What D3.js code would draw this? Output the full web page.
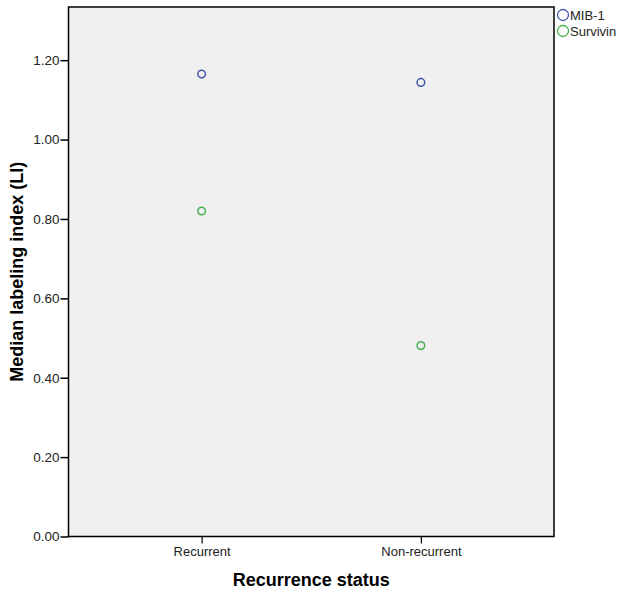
<!DOCTYPE html>
<html>
<head>
<meta charset="utf-8">
<script src="https://cdn.jsdelivr.net/npm/d3@7"></script>
<style>
  body { margin: 0; background: #fff; }
  text { font-family: "Liberation Sans", Arial, sans-serif; }
</style>
</head>
<body>
<div id="chart"></div>
<script>
// values
var categories = ["Recurrent", "Non-recurrent"];
var mib1 = [1.165, 1.144];
var survivin = [0.820, 0.481];
var seriesNames = ["MIB-1", "Survivin"];
var yTicks = [0, 0.2, 0.4, 0.6, 0.8, 1.0, 1.2];

var blue = "#4459a8";
var green = "#42b14a";

var W = 625, H = 594;
// plot box (note: "top" is a reserved window prop, so use other names)
var pLeft = 68.5, pRight = 554, pTop = 7, pBottom = 536.5;

var svg = d3.select("#chart").append("svg")
    .attr("width", W).attr("height", H);

var x = d3.scalePoint()
    .domain(categories)
    .range([pLeft, pRight])
    .padding(0.607);
var y = d3.scaleLinear()
    .domain([0, 1.334])
    .range([pBottom, pTop]);

// plot background
svg.append("rect")
    .attr("x", pLeft).attr("y", pTop)
    .attr("width", pRight - pLeft).attr("height", pBottom - pTop)
    .attr("fill", "#f0f0f0")
    .attr("stroke", "#000").attr("stroke-width", 1.5);

// y axis
var yAxis = svg.append("g")
    .attr("transform", "translate(" + pLeft + ",0)")
    .call(d3.axisLeft(y).tickValues(yTicks).tickFormat(d3.format(".2f")).tickSize(8).tickSizeOuter(0));
yAxis.select(".domain").remove();
yAxis.selectAll("line").attr("stroke", "#000").attr("stroke-width", 1.5);
yAxis.selectAll("text").attr("font-size", 13.5).attr("fill", "#222")
    .attr("font-family", "'Liberation Sans', Arial, sans-serif").attr("x", -9);

// x axis
var xAxis = svg.append("g")
    .attr("transform", "translate(0," + pBottom + ")")
    .call(d3.axisBottom(x).tickSize(7).tickSizeOuter(0));
xAxis.select(".domain").remove();
xAxis.selectAll("line").attr("stroke", "#000").attr("stroke-width", 1.2);
xAxis.selectAll("text").attr("font-size", 13).attr("fill", "#222")
    .attr("font-family", "'Liberation Sans', Arial, sans-serif").attr("y", 10);

// axis titles
svg.append("text")
    .attr("x", (pLeft + pRight) / 2).attr("y", 586)
    .attr("text-anchor", "middle")
    .attr("font-family", "'DejaVu Sans', Verdana, sans-serif")
    .attr("font-weight", "bold").attr("font-size", 18)
    .text("Recurrence status");
svg.append("text")
    .attr("transform", "translate(23," + ((pTop + pBottom) / 2) + ") rotate(-90)")
    .attr("text-anchor", "middle")
    .attr("font-family", "'DejaVu Sans', Verdana, sans-serif")
    .attr("font-weight", "bold").attr("font-size", 18)
    .text("Median labeling index (LI)");

// points
var series = [
  { name: seriesNames[0], values: mib1, color: blue },
  { name: seriesNames[1], values: survivin, color: green }
];
series.forEach(function (s) {
  svg.append("g").selectAll("circle")
      .data(s.values)
      .enter().append("circle")
      .attr("cx", function (d, i) { return x(categories[i]); })
      .attr("cy", function (d) { return y(d); })
      .attr("r", 3.8)
      .attr("fill", "none")
      .attr("stroke", s.color)
      .attr("stroke-width", 1.5);
});

// legend
var legend = svg.append("g").selectAll("g")
    .data(series)
    .enter().append("g")
    .attr("transform", function (d, i) { return "translate(563," + (15 + i * 16) + ")"; });
legend.append("circle")
    .attr("r", 5.5)
    .attr("fill", "none")
    .attr("stroke", function (d) { return d.color; })
    .attr("stroke-width", 1.3);
legend.append("text")
    .attr("x", 7).attr("y", 4.5)
    .attr("font-size", 13).attr("fill", "#222")
    .text(function (d) { return d.name; });
</script>
</body>
</html>
